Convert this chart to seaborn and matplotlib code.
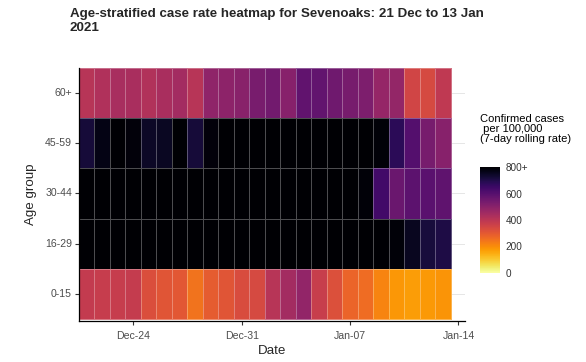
import numpy as np
import pandas as pd
import matplotlib
matplotlib.use("Agg")
import matplotlib.pyplot as plt
import seaborn as sns

sns.set_style("white")
plt.rcParams['font.family'] = ['Liberation Sans', 'DejaVu Sans']

dates = pd.date_range("2020-12-21", "2021-01-13")
age_groups = ["60+", "45-59", "30-44", "16-29", "0-15"]

rate_60_plus = [408, 424, 440, 436, 420, 436, 448, 408, 488, 492, 500, 532,
                544, 504, 580, 576, 552, 536, 524, 476, 480, 352, 340, 392]
rate_45_59 = [720, 770, 800, 785, 745, 752, 800, 720, 785, 800, 800, 800,
              800, 800, 800, 800, 800, 800, 800, 790, 680, 604, 536, 504]
rate_30_44 = [800, 800, 800, 800, 800, 800, 800, 800, 800, 800, 800, 800,
              800, 800, 800, 800, 800, 800, 790, 640, 560, 588, 592, 584]
rate_16_29 = [800, 800, 800, 800, 800, 800, 800, 800, 800, 800, 800, 800,
              800, 800, 800, 800, 800, 800, 800, 800, 790, 756, 716, 704]
rate_0_15 = [384, 376, 376, 380, 328, 312, 304, 248, 296, 312, 332, 340,
             408, 448, 484, 372, 324, 276, 260, 216, 184, 172, 180, 188]

x_tick_labels = ["Dec-24", "Dec-31", "Jan-07", "Jan-14"]
x_tick_dates = pd.to_datetime(["2020-12-24", "2020-12-31", "2021-01-07", "2021-01-14"])
cbar_ticks = [0, 200, 400, 600, 800]
cbar_labels = ["0", "200", "400", "600", "800+"]

df = pd.DataFrame([rate_60_plus, rate_45_59, rate_30_44, rate_16_29, rate_0_15],
                  index=age_groups, columns=dates)

fig = plt.figure(figsize=(5.86, 3.62), dpi=100)
ax = fig.add_axes([79/586, 41/362, 386/586, 253.5/362])
cax = fig.add_axes([480/586, 89/362, 20/586, 106/362])

sns.heatmap(df, ax=ax, cmap="inferno_r", vmin=0, vmax=800, cbar_ax=cax,
            linewidths=0.6, linecolor=(1, 1, 1, 0.3))
mesh = ax.collections[0]

n_days = len(dates)
x_right = n_days + 0.92
# faint horizontal gridlines (under the tiles)
for i in range(len(age_groups)):
    ax.hlines(i + 0.5, 0, x_right, color="#e6e6e6", lw=0.7, zorder=0)

ax.set_xlim(0, x_right)
ax.set_ylim(len(age_groups) + 0.03, 0)

tick_pos = [(d - dates[0]).days + 0.5 for d in x_tick_dates]
ax.set_xticks(tick_pos)
ax.set_xticklabels(x_tick_labels, rotation=0)
ax.set_yticks(np.arange(len(age_groups)) + 0.5)
ax.set_yticklabels(age_groups, rotation=0)

for s in ["left", "bottom"]:
    ax.spines[s].set_visible(True)
    ax.spines[s].set_color("black")
    ax.spines[s].set_linewidth(0.9)
for s in ["top", "right"]:
    ax.spines[s].set_visible(False)

ax.tick_params(axis="both", length=3, width=0.8, color="#333333",
               labelsize=7.6, labelcolor="#4d4d4d", pad=2, bottom=True, left=True)
ax.tick_params(axis="x", pad=4)
ax.set_xlabel("Date", fontsize=9.6, labelpad=3)
ax.set_ylabel("Age group", fontsize=9.6, labelpad=6)

cbar = mesh.colorbar
cbar.outline.set_visible(False)
cbar.set_ticks(cbar_ticks)
cbar.set_ticklabels(cbar_labels)
cax.tick_params(axis="y", direction="in", length=4, width=0.6, color="white",
                labelsize=7.2, labelcolor="#333333", pad=4, left=True, right=True)

fig.text(480/586, 1 - 114/362, "Confirmed cases\n per 100,000\n(7-day rolling rate)",
         ha="left", va="top", fontsize=8, linespacing=1.0, color="black")

fig.text(70/586, 1 - 8/362,
         "Age-stratified case rate heatmap for Sevenoaks: 21 Dec to 13 Jan\n2021",
         ha="left", va="top", fontsize=9.6, fontweight="bold", linespacing=1.2)

fig.savefig("out.png", dpi=100)
